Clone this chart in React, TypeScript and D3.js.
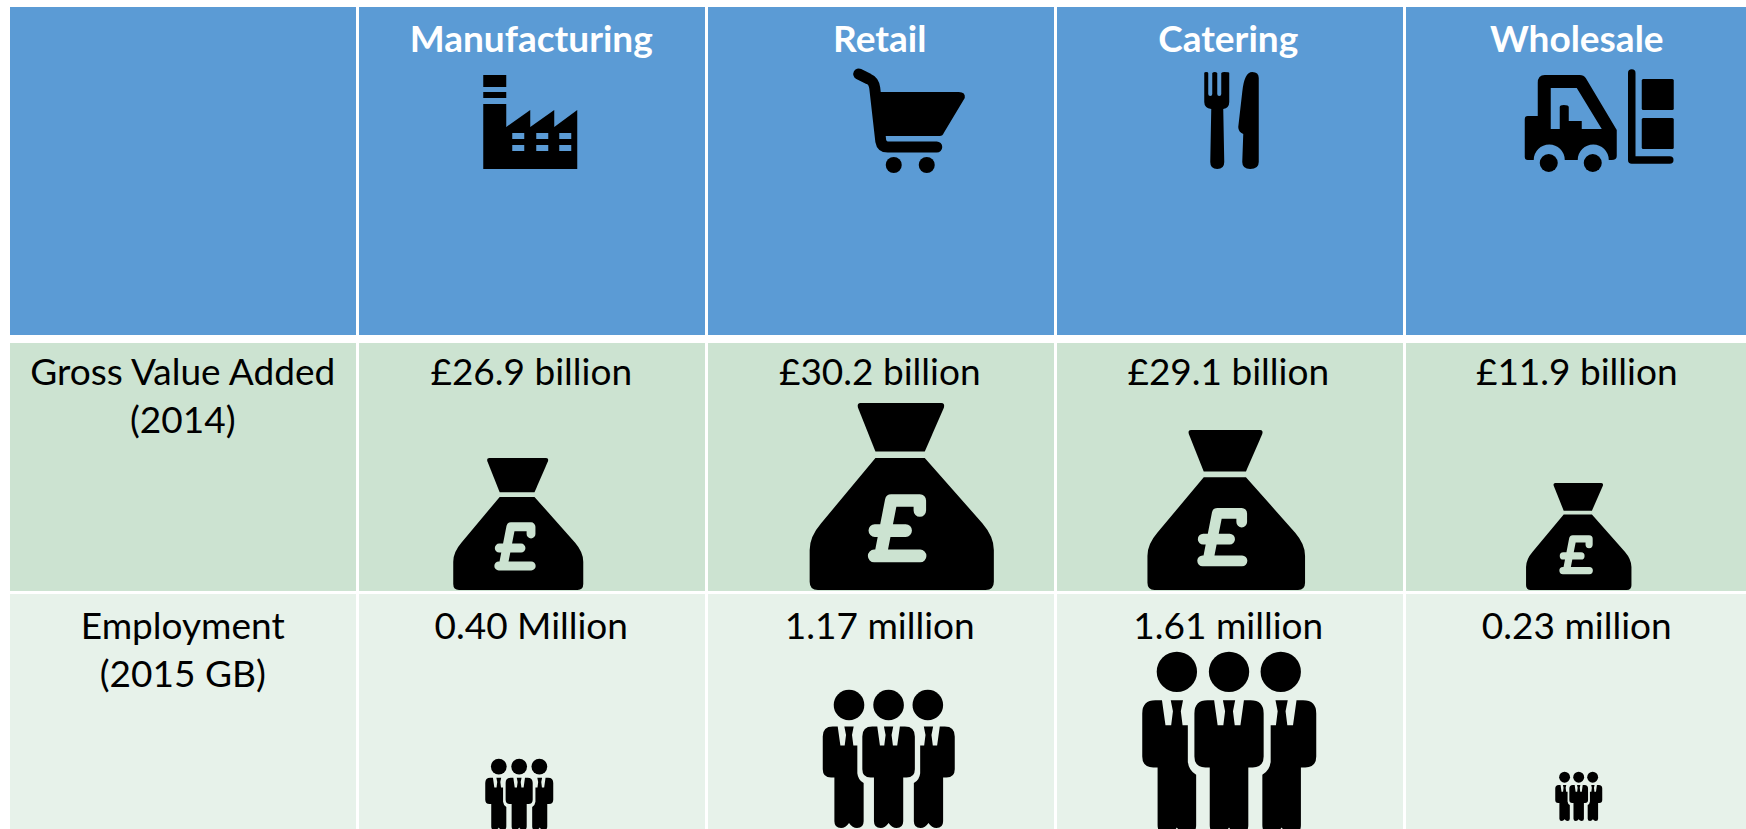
import React from "react";
import * as d3 from "d3";

const categories = ["Manufacturing", "Retail", "Catering", "Wholesale"];
const gvaBillions = [26.9, 30.2, 29.1, 11.9];
const employmentMillions = [0.4, 1.17, 1.61, 0.23];
const employmentUnits = ["Million", "million", "million", "million"];
const rowLabels = [
  ["Gross Value Added", "(2014)"],
  ["Employment", "(2015 GB)"],
];

const WIDTH = 1746;
const HEIGHT = 829;
const BLUE = "#5b9bd5";
const GREEN_DARK = "#cce3d1";
const GREEN_LIGHT = "#e7f2ea";
const FONT = "Lato, 'Open Sans', sans-serif";

// row edges
const headerTop = 7, headerBottom = 335;
const gvaTop = 343, gvaBottom = 591;
const empTop = 594, empBottom = 829;
const bagBottom = 590;

// the icons sit a little off centre in their cells
const headerIconDx = [-1, 28, 3, 23];
const bagDx = [-13, 22, -2, 2];
const peopleDx = [-12, 9, 1, 2];
const peopleBottom = [830, 828, 834, 821];

const columns = d3.scaleBand<string>()
  .domain(["", ...categories])
  .range([10, 1752])
  .paddingInner(3 / 349);

// text runs on a slightly tighter pitch than the cells
const labelColumns = d3.scaleBand<string>()
  .domain(["", ...categories])
  .range([10, 1749.5])
  .paddingInner(3 / 348.5);

// icon sizes are not quite linear in the value, so calibrate through each one
const bagSize = d3.scaleLinear().domain([11.9, 26.9, 29.1, 30.2]).range([107, 132, 160, 187]);
const peopleSize = d3.scaleLinear().domain([0.23, 0.4, 1.17, 1.61]).range([47, 68, 132, 174]);

const gvaFormat = d3.format(".1f");
const empFormat = d3.format(".2f");

function Factory() {
  const windows: [number, number][] = [];
  [29, 53, 76].forEach((x) => [58, 70].forEach((y) => windows.push([x, y])));
  return (
    <g transform="translate(-47,0)">
      <rect x={0} y={0} width={23} height={12} />
      <rect x={0} y={17} width={23} height={6} />
      <path d="M0,29H23V52L47,35V52L71,35V52L94,35V94H0Z" />
      {windows.map(([x, y]) => (
        <rect key={x + "-" + y} x={x} y={y} width={12} height={6} fill={BLUE} />
      ))}
    </g>
  );
}

function Cart() {
  return (
    <g transform="translate(-56,0)">
      <path d="M7,5L17,10Q22,12 23,19L29,72Q30,78 36,78H85" fill="none" stroke="#000" strokeWidth={11} strokeLinecap="round" strokeLinejoin="round" />
      <path d="M27,23H107Q114,23 113,29L92,64Q91,67 88,67H32Z" />
      <ellipse cx={42} cy={96} rx={8} ry={8} />
      <ellipse cx={75} cy={96} rx={8} ry={8} />
    </g>
  );
}

function Cutlery() {
  return (
    <g transform="translate(-27,0)">
      <path d="M0,1Q0,0 2,0Q4,0 4,1V22Q4,24 6,24Q8,24 8,22V1Q9,0 10.5,0Q12,0 13,1V22Q13,24 15,24Q17,24 17,22V1Q18,0 20,0Q25,0 25,1V30Q25,36 19,37L20,90Q20,97 13,97Q6,97 6,90L7,37Q0,36 0,30Z" />
      <path d="M54.5,6Q54.5,0 48,0Q40,0 38,20L34,55Q34,60 39,62L38,90Q38,97 46,97Q54.5,97 54.5,90Z" />
    </g>
  );
}

function Forklift() {
  return (
    <g transform="translate(-75,0)">
      <path
        fillRule="evenodd"
        d="M0,50Q0,47 3,47H13V14Q13,6 20,6H55Q59,6 61,9L92,61V87Q92,91 87,91H84A15,15 0 0 0 53,91H40A15,15 0 0 0 9,91H3Q0,91 0,88ZM26,19V60H35V38Q35,36 39,36Q44,36 44,38V52H57V60H77L52,19Z"
      />
      <circle cx={24} cy={94} r={9} />
      <circle cx={68} cy={94} r={9} />
      <path d="M107,4V91H145" fill="none" stroke="#000" strokeWidth={7.5} strokeLinecap="round" strokeLinejoin="round" />
      <rect x={117} y={10} width={32} height={31} rx={1.5} />
      <rect x={117} y={49} width={32} height={31} rx={1.5} />
    </g>
  );
}

const headerIcons = [Factory, Cart, Cutlery, Forklift];
const headerIconTop = [75, 69, 72, 69];

// money bag drawn on a 560 box, origin top-left
function Bag({ size, fill }: { size: number; fill: string }) {
  const k = size / 560;
  return (
    <g transform={`translate(${(size * 0.015) / 2},0) scale(${k * 0.985},${k})`}>
      <path d="M155,0H400Q412,0 408,14L350,145H200L147,14Q143,0 155,0Z" />
      <path d="M200,165H350L525,360Q560,400 560,440V535Q560,560 535,560H25Q0,560 0,535V440Q0,400 35,360Z" />
      <path
        d="M335,322V292H248L215,458M196,458H336M198,382H292"
        fill="none"
        stroke={fill}
        strokeWidth={38}
        strokeLinecap="round"
        strokeLinejoin="round"
      />
    </g>
  );
}

// three suited figures drawn on a 397 wide, 415 tall box
const figureCentre =
  "M-79,140Q-79,110 -49,110L-34,110L-26,167L-13,167L-9,135L-14,110L14,110L9,135L13,167L26,167L34,110L49,110Q79,110 79,140L79,238Q79,263 54,263L44,263L44,395Q44,415 24,415Q10,415 0,400Q-10,415 -24,415Q-44,415 -44,395L-44,263L-54,263Q-79,263 -79,238Z";
const figureSide =
  "M-79,140Q-79,110 -49,110L-34,110L-26,167L-13,167L-9,135L-14,110L14,110L9,135L13,167L25,167L25,250Q27,270 44,280L44,395Q44,415 24,415Q10,415 0,400Q-10,415 -24,415Q-44,415 -44,395L-44,263L-54,263Q-79,263 -79,238Z";

function People({ size }: { size: number }) {
  const k = size / 397;
  return (
    <g transform={`scale(${k})`}>
      {[79, 198, 316].map((cx) => (
        <circle key={cx} cx={cx} cy={45} r={46} />
      ))}
      <path d={figureSide} transform="translate(79,0)" />
      <path d={figureCentre} transform="translate(198,0)" />
      <path d={figureSide} transform="translate(318,0) scale(-1,1)" />
    </g>
  );
}

export default function App() {
  const bw = columns.bandwidth();
  const colKeys = columns.domain();
  const cx = (name: string) => (labelColumns(name) as number) + labelColumns.bandwidth() / 2;
  const rows = [
    { top: headerTop, bottom: headerBottom, fill: BLUE },
    { top: gvaTop, bottom: gvaBottom, fill: GREEN_DARK },
    { top: empTop, bottom: empBottom, fill: GREEN_LIGHT },
  ];
  const bodyText = { fontFamily: FONT, fontSize: 37, fill: "#000", textAnchor: "middle" as const };

  return (
    <svg width={WIDTH} height={HEIGHT} style={{ position: "fixed", left: 0, top: 0, background: "#fff" }}>
      {rows.map((r) =>
        colKeys.map((c) => (
          <rect key={r.top + c} x={columns(c)} y={r.top} width={bw} height={r.bottom - r.top} fill={r.fill} />
        ))
      )}

      {categories.map((name, i) => {
        const Icon = headerIcons[i];
        const x = cx(name);
        const bag = bagSize(gvaBillions[i]);
        const ppl = peopleSize(employmentMillions[i]);
        return (
          <g key={name}>
            <text x={x} y={52} fontFamily={FONT} fontSize={37} fontWeight={700} fill="#fff" textAnchor="middle">
              {name}
            </text>
            <g transform={`translate(${x + headerIconDx[i]},${headerIconTop[i]})`}>
              <Icon />
            </g>
            <text x={x} y={385} {...bodyText}>
              {"£" + gvaFormat(gvaBillions[i]) + " billion"}
            </text>
            <g transform={`translate(${x + bagDx[i] - bag / 2},${bagBottom - bag})`}>
              <Bag size={bag} fill={GREEN_DARK} />
            </g>
            <text x={x} y={639} {...bodyText}>
              {empFormat(employmentMillions[i]) + " " + employmentUnits[i]}
            </text>
            <g transform={`translate(${x + peopleDx[i] - ppl / 2},${peopleBottom[i] - (ppl * 415) / 397})`}>
              <People size={ppl} />
            </g>
          </g>
        );
      })}

      {rowLabels.map((lines, r) =>
        lines.map((line, j) => (
          <text key={line} x={cx("")} y={(r === 0 ? 385 : 639) + j * 48} {...bodyText}>
            {line}
          </text>
        ))
      )}
    </svg>
  );
}
